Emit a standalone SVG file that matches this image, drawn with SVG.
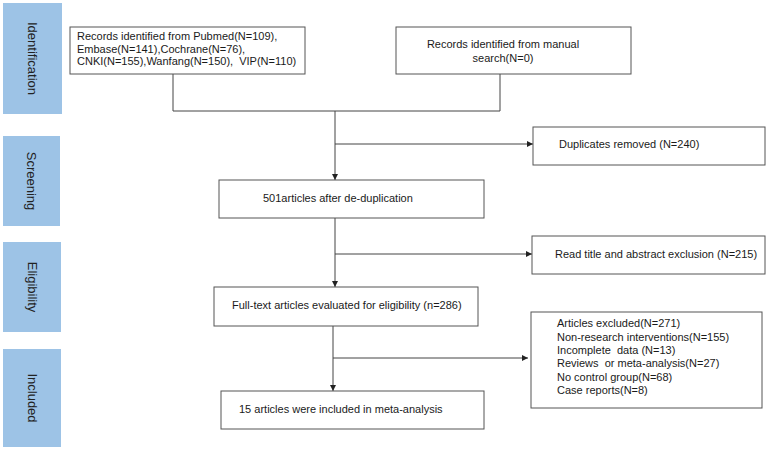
<svg xmlns="http://www.w3.org/2000/svg" width="767" height="450" viewBox="0 0 767 450">
<style>
.bar{fill:#9dc3e6}
.lab{font-family:"Liberation Sans",Arial,sans-serif;font-size:13px;fill:#222;text-anchor:middle}
.box{fill:#fff;stroke:#555;stroke-width:1}
.t{font-family:"Liberation Sans",Arial,sans-serif;font-size:11px;fill:#1a1a1a;white-space:pre}
.ln{fill:none;stroke:#444;stroke-width:1}
</style>
<defs>
<marker id="arr" viewBox="0 0 10 10" refX="10" refY="5" markerWidth="6" markerHeight="6" orient="auto" markerUnits="userSpaceOnUse">
<path d="M0,0 L10,5 L0,10 z" fill="#222"/>
</marker>
</defs>
<rect width="767" height="450" fill="#fff"/>
<g id="stage-identification"><rect class="bar" x="3" y="3" width="59" height="111"/><text class="lab" transform="translate(28,58.5) rotate(90)">Identification</text></g>
<g id="stage-screening"><rect class="bar" x="3" y="136" width="57" height="90"/><text class="lab" transform="translate(27,181) rotate(90)">Screening</text></g>
<g id="stage-eligibility"><rect class="bar" x="3" y="242" width="58" height="90"/><text class="lab" transform="translate(28,287) rotate(90)">Eligibility</text></g>
<g id="stage-included"><rect class="bar" x="3" y="349" width="58" height="98"/><text class="lab" transform="translate(28,398) rotate(90)">Included</text></g>
<g id="connectors">
<polyline class="ln" points="173,74 173,111 500,111 500,74"/>
<line class="ln" x1="335" y1="111" x2="335" y2="180" marker-end="url(#arr)"/>
<line class="ln" x1="335" y1="144" x2="533" y2="144" marker-end="url(#arr)"/>
<line class="ln" x1="335" y1="218" x2="335" y2="287" marker-end="url(#arr)"/>
<line class="ln" x1="335" y1="254" x2="532" y2="254" marker-end="url(#arr)"/>
<line class="ln" x1="333" y1="326" x2="333" y2="391" marker-end="url(#arr)"/>
<line class="ln" x1="333" y1="358" x2="528" y2="358" marker-end="url(#arr)"/>
</g>
<g id="records-db"><rect class="box" x="70" y="27" width="235" height="47"/>
<text class="t" x="77" y="40">Records identified from Pubmed(N=109),</text>
<text class="t" x="77" y="52.7">Embase(N=141),Cochrane(N=76),</text>
<text class="t" x="77" y="65.4">CNKI(N=155),Wanfang(N=150),  VIP(N=110)</text></g>
<g id="records-manual"><rect class="box" x="396" y="27" width="235" height="47"/>
<text class="t" x="503" y="47.5" text-anchor="middle">Records identified from manual</text>
<text class="t" x="503" y="62" text-anchor="middle">search(N=0)</text></g>
<g id="duplicates"><rect class="box" x="533" y="127" width="232" height="38"/>
<text class="t" x="559" y="148">Duplicates removed (N=240)</text></g>
<g id="dedup"><rect class="box" x="219" y="180" width="265" height="38"/>
<text class="t" x="263" y="202">501articles after de-duplication</text></g>
<g id="title-abstract"><rect class="box" x="532" y="236" width="233" height="38"/>
<text class="t" x="555" y="258">Read title and abstract exclusion (N=215)</text></g>
<g id="fulltext"><rect class="box" x="214" y="287" width="264" height="39"/>
<text class="t" x="232" y="309">Full-text articles evaluated for eligibility (n=286)</text></g>
<g id="excluded"><rect class="box" x="531" y="312" width="231" height="96"/>
<text class="t" x="557" y="327">Articles excluded(N=271)</text>
<text class="t" x="557" y="341">Non-research interventions(N=155)</text>
<text class="t" x="557" y="354">Incomplete  data (N=13)</text>
<text class="t" x="557" y="367">Reviews  or meta-analysis(N=27)</text>
<text class="t" x="557" y="381">No control group(N=68)</text>
<text class="t" x="557" y="394">Case reports(N=8)</text></g>
<g id="included"><rect class="box" x="221" y="391" width="263" height="38"/>
<text class="t" x="239" y="413">15 articles were included in meta-analysis</text></g>
</svg>
